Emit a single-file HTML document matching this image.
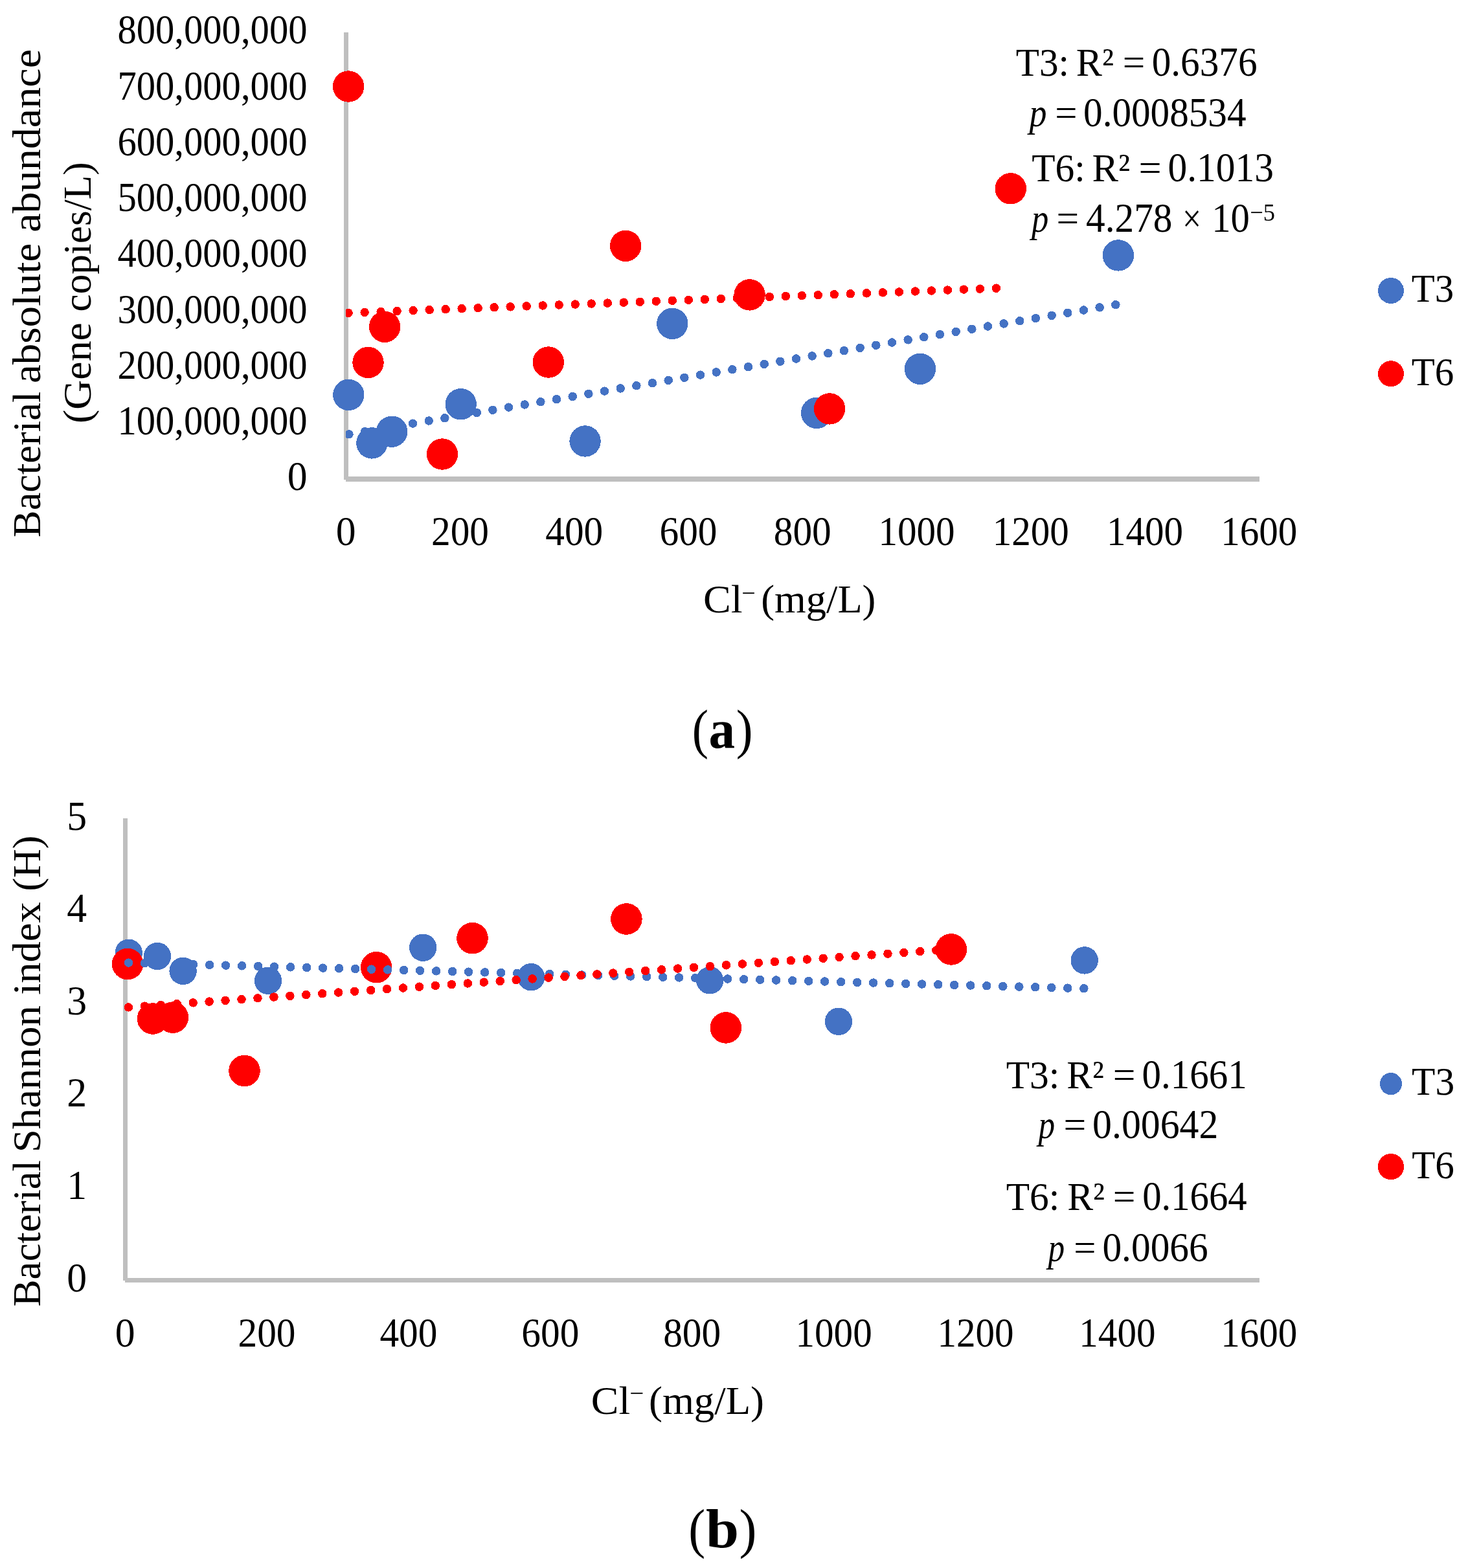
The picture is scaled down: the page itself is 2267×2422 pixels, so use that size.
<!DOCTYPE html>
<html lang="en">
<head>
<meta charset="utf-8">
<title>Bacterial absolute abundance and Shannon index versus chloride concentration</title>
<style>
html, body { margin: 0; padding: 0; background: #fff; }
body { width: 2267px; height: 2422px; overflow: hidden; }
svg { display: block; }
circle, path, rect { shape-rendering: crispEdges; }
text { font-family: "Liberation Serif", serif; font-size: 62.0px; fill: #000; font-kerning: none; font-variant-ligatures: none; white-space: pre; }
</style>
</head>
<body>
<svg width="2267" height="2422" viewBox="0 0 2267 2422">
<rect width="2267" height="2422" fill="#fff"/>
<g id="chart-a">
<rect x="531.3" y="50" width="6.6" height="690.7" fill="#BFBFBF"/>
<rect x="534.1" y="736.4" width="1410.6" height="7.2" fill="#BFBFBF"/>
<text y="67.4"><tspan x="181.4" textLength="293.13" lengthAdjust="spacingAndGlyphs" font-size="62.6">800,000,000</tspan></text>
<text y="153.62"><tspan x="181.4" textLength="293.13" lengthAdjust="spacingAndGlyphs" font-size="62.6">700,000,000</tspan></text>
<text y="239.85"><tspan x="181.4" textLength="293.13" lengthAdjust="spacingAndGlyphs" font-size="62.6">600,000,000</tspan></text>
<text y="326.07"><tspan x="181.4" textLength="293.13" lengthAdjust="spacingAndGlyphs" font-size="62.6">500,000,000</tspan></text>
<text y="412.3"><tspan x="181.4" textLength="293.13" lengthAdjust="spacingAndGlyphs" font-size="62.6">400,000,000</tspan></text>
<text y="498.52"><tspan x="181.4" textLength="293.13" lengthAdjust="spacingAndGlyphs" font-size="62.6">300,000,000</tspan></text>
<text y="584.75"><tspan x="181.4" textLength="293.13" lengthAdjust="spacingAndGlyphs" font-size="62.6">200,000,000</tspan></text>
<text y="670.97"><tspan x="181.4" textLength="293.13" lengthAdjust="spacingAndGlyphs" font-size="62.6">100,000,000</tspan></text>
<text y="757.2"><tspan x="443.78" textLength="30.87" lengthAdjust="spacingAndGlyphs" font-size="62.6">0</tspan></text>
<text y="842.3"><tspan x="518.82" textLength="30.87" lengthAdjust="spacingAndGlyphs" font-size="62.6">0</tspan></text>
<text y="842.3"><tspan x="665.99" textLength="89.02" lengthAdjust="spacingAndGlyphs" font-size="62.6">200</tspan></text>
<text y="842.3"><tspan x="842.24" textLength="89.02" lengthAdjust="spacingAndGlyphs" font-size="62.6">400</tspan></text>
<text y="842.3"><tspan x="1018.49" textLength="89.02" lengthAdjust="spacingAndGlyphs" font-size="62.6">600</tspan></text>
<text y="842.3"><tspan x="1194.74" textLength="89.02" lengthAdjust="spacingAndGlyphs" font-size="62.6">800</tspan></text>
<text y="842.3"><tspan x="1356.42" textLength="118.17" lengthAdjust="spacingAndGlyphs" font-size="62.6">1000</tspan></text>
<text y="842.3"><tspan x="1532.67" textLength="118.17" lengthAdjust="spacingAndGlyphs" font-size="62.6">1200</tspan></text>
<text y="842.3"><tspan x="1708.92" textLength="118.17" lengthAdjust="spacingAndGlyphs" font-size="62.6">1400</tspan></text>
<text y="842.3"><tspan x="1885.17" textLength="118.17" lengthAdjust="spacingAndGlyphs" font-size="62.6">1600</tspan></text>
<text transform="translate(62.3 0) rotate(-90)" y="0"><tspan x="-830" textLength="225.25" lengthAdjust="spacingAndGlyphs">Bacterial</tspan> <tspan x="-592.08" textLength="216.54" lengthAdjust="spacingAndGlyphs">absolute</tspan> <tspan x="-358.83" textLength="282.82" lengthAdjust="spacingAndGlyphs">abundance</tspan></text>
<text transform="translate(140.2 0) rotate(-90)" y="0"><tspan x="-654" textLength="155.92" lengthAdjust="spacingAndGlyphs">(Gene</tspan> <tspan x="-481.53" textLength="231.12" lengthAdjust="spacingAndGlyphs">copies/L)</tspan></text>
<text y="946.3"><tspan x="1086.07" textLength="60.62" lengthAdjust="spacingAndGlyphs">Cl</tspan><tspan x="1145.31" textLength="21.45" lengthAdjust="spacingAndGlyphs" y="929.22" font-size="38">−</tspan> <tspan x="1175.25" textLength="177.2" lengthAdjust="spacingAndGlyphs" y="946.3">(mg/L)</tspan></text>
<circle cx="538.3" cy="609.9" r="24.2" fill="#4472C4"/>
<circle cx="574.4" cy="684.4" r="24.2" fill="#4472C4"/>
<circle cx="605.2" cy="666.7" r="24.2" fill="#4472C4"/>
<circle cx="711.7" cy="624.3" r="24.2" fill="#4472C4"/>
<circle cx="903.6" cy="681.5" r="24.2" fill="#4472C4"/>
<circle cx="1038.3" cy="499.9" r="24.2" fill="#4472C4"/>
<circle cx="1261.1" cy="637.9" r="24.2" fill="#4472C4"/>
<circle cx="1421" cy="569.8" r="24.2" fill="#4472C4"/>
<circle cx="1726.9" cy="394.4" r="24.2" fill="#4472C4"/>
<circle cx="538.1" cy="133.5" r="24.2" fill="#FF0000"/>
<circle cx="568.5" cy="559.9" r="24.2" fill="#FF0000"/>
<circle cx="594.1" cy="504.8" r="24.2" fill="#FF0000"/>
<circle cx="683" cy="701.5" r="24.2" fill="#FF0000"/>
<circle cx="846.8" cy="559.5" r="24.2" fill="#FF0000"/>
<circle cx="966.1" cy="379.8" r="24.2" fill="#FF0000"/>
<circle cx="1157.6" cy="455.4" r="24.2" fill="#FF0000"/>
<circle cx="1281.1" cy="631.4" r="24.2" fill="#FF0000"/>
<circle cx="1560.8" cy="291.3" r="24.2" fill="#FF0000"/>
<g fill="#4472C4">
<path d="M534.00 666.16A6.75 6.75 0 1 1 534.00 675.44Z"/>
<circle cx="563.56" cy="666.63" r="6.75"/>
<circle cx="588.23" cy="662.46" r="6.75"/>
<circle cx="612.89" cy="658.29" r="6.75"/>
<circle cx="637.56" cy="654.12" r="6.75"/>
<circle cx="662.22" cy="649.96" r="6.75"/>
<circle cx="686.89" cy="645.79" r="6.75"/>
<circle cx="711.55" cy="641.62" r="6.75"/>
<circle cx="736.22" cy="637.45" r="6.75"/>
<circle cx="760.88" cy="633.28" r="6.75"/>
<circle cx="785.55" cy="629.11" r="6.75"/>
<circle cx="810.21" cy="624.94" r="6.75"/>
<circle cx="834.88" cy="620.77" r="6.75"/>
<circle cx="859.54" cy="616.61" r="6.75"/>
<circle cx="884.20" cy="612.44" r="6.75"/>
<circle cx="908.87" cy="608.27" r="6.75"/>
<circle cx="933.53" cy="604.10" r="6.75"/>
<circle cx="958.20" cy="599.93" r="6.75"/>
<circle cx="982.86" cy="595.76" r="6.75"/>
<circle cx="1007.53" cy="591.59" r="6.75"/>
<circle cx="1032.19" cy="587.42" r="6.75"/>
<circle cx="1056.86" cy="583.26" r="6.75"/>
<circle cx="1081.52" cy="579.09" r="6.75"/>
<circle cx="1106.19" cy="574.92" r="6.75"/>
<circle cx="1130.85" cy="570.75" r="6.75"/>
<circle cx="1155.51" cy="566.58" r="6.75"/>
<circle cx="1180.18" cy="562.41" r="6.75"/>
<circle cx="1204.84" cy="558.24" r="6.75"/>
<circle cx="1229.51" cy="554.07" r="6.75"/>
<circle cx="1254.17" cy="549.91" r="6.75"/>
<circle cx="1278.84" cy="545.74" r="6.75"/>
<circle cx="1303.50" cy="541.57" r="6.75"/>
<circle cx="1328.17" cy="537.40" r="6.75"/>
<circle cx="1352.83" cy="533.23" r="6.75"/>
<circle cx="1377.50" cy="529.06" r="6.75"/>
<circle cx="1402.16" cy="524.89" r="6.75"/>
<circle cx="1426.83" cy="520.72" r="6.75"/>
<circle cx="1451.49" cy="516.56" r="6.75"/>
<circle cx="1476.15" cy="512.39" r="6.75"/>
<circle cx="1500.82" cy="508.22" r="6.75"/>
<circle cx="1525.48" cy="504.05" r="6.75"/>
<circle cx="1550.15" cy="499.88" r="6.75"/>
<circle cx="1574.81" cy="495.71" r="6.75"/>
<circle cx="1599.48" cy="491.54" r="6.75"/>
<circle cx="1624.14" cy="487.38" r="6.75"/>
<circle cx="1648.81" cy="483.21" r="6.75"/>
<circle cx="1673.47" cy="479.04" r="6.75"/>
<circle cx="1698.14" cy="474.87" r="6.75"/>
<circle cx="1722.80" cy="470.70" r="6.75"/>
</g>
<g fill="#FF0000">
<path d="M534.00 478.04A6.75 6.75 0 1 1 534.00 488.76Z"/>
<circle cx="563.11" cy="482.44" r="6.75"/>
<circle cx="588.12" cy="481.49" r="6.75"/>
<circle cx="613.12" cy="480.53" r="6.75"/>
<circle cx="638.13" cy="479.58" r="6.75"/>
<circle cx="663.14" cy="478.62" r="6.75"/>
<circle cx="688.14" cy="477.67" r="6.75"/>
<circle cx="713.15" cy="476.71" r="6.75"/>
<circle cx="738.16" cy="475.76" r="6.75"/>
<circle cx="763.17" cy="474.81" r="6.75"/>
<circle cx="788.18" cy="473.85" r="6.75"/>
<circle cx="813.18" cy="472.89" r="6.75"/>
<circle cx="838.19" cy="471.94" r="6.75"/>
<circle cx="863.20" cy="470.98" r="6.75"/>
<circle cx="888.21" cy="470.03" r="6.75"/>
<circle cx="913.21" cy="469.07" r="6.75"/>
<circle cx="938.22" cy="468.12" r="6.75"/>
<circle cx="963.23" cy="467.16" r="6.75"/>
<circle cx="988.24" cy="466.21" r="6.75"/>
<circle cx="1013.24" cy="465.25" r="6.75"/>
<circle cx="1038.25" cy="464.30" r="6.75"/>
<circle cx="1063.26" cy="463.34" r="6.75"/>
<circle cx="1088.27" cy="462.39" r="6.75"/>
<circle cx="1113.27" cy="461.44" r="6.75"/>
<circle cx="1138.28" cy="460.48" r="6.75"/>
<circle cx="1163.29" cy="459.52" r="6.75"/>
<circle cx="1188.30" cy="458.57" r="6.75"/>
<circle cx="1213.30" cy="457.62" r="6.75"/>
<circle cx="1238.31" cy="456.66" r="6.75"/>
<circle cx="1263.32" cy="455.70" r="6.75"/>
<circle cx="1288.33" cy="454.75" r="6.75"/>
<circle cx="1313.33" cy="453.79" r="6.75"/>
<circle cx="1338.34" cy="452.84" r="6.75"/>
<circle cx="1363.35" cy="451.88" r="6.75"/>
<circle cx="1388.36" cy="450.93" r="6.75"/>
<circle cx="1413.36" cy="449.97" r="6.75"/>
<circle cx="1438.37" cy="449.02" r="6.75"/>
<circle cx="1463.38" cy="448.06" r="6.75"/>
<circle cx="1488.38" cy="447.11" r="6.75"/>
<circle cx="1513.39" cy="446.15" r="6.75"/>
<circle cx="1538.40" cy="445.20" r="6.75"/>
</g>
<text y="117.2"><tspan x="1568.73" textLength="82.27" lengthAdjust="spacingAndGlyphs">T3:</tspan> <tspan x="1661.86" textLength="58.32" lengthAdjust="spacingAndGlyphs">R²</tspan> <tspan x="1733.65" textLength="34.54" lengthAdjust="spacingAndGlyphs">=</tspan> <tspan x="1778.64" textLength="162.92" lengthAdjust="spacingAndGlyphs" font-size="62.6">0.6376</tspan></text>
<text y="195.4"><tspan x="1589.46" textLength="26.97" lengthAdjust="spacingAndGlyphs" font-style="italic">p</tspan> <tspan x="1629.17" textLength="34.3" lengthAdjust="spacingAndGlyphs">=</tspan> <tspan x="1673.05" textLength="251.48" lengthAdjust="spacingAndGlyphs" font-size="62.6">0.0008534</tspan></text>
<text y="280.2"><tspan x="1593.13" textLength="82.6" lengthAdjust="spacingAndGlyphs">T6:</tspan> <tspan x="1686.55" textLength="58.74" lengthAdjust="spacingAndGlyphs">R²</tspan> <tspan x="1758.5" textLength="35.15" lengthAdjust="spacingAndGlyphs">=</tspan> <tspan x="1803.54" textLength="163.49" lengthAdjust="spacingAndGlyphs" font-size="62.6">0.1013</tspan></text>
<text y="358.4"><tspan x="1592.98" textLength="26.31" lengthAdjust="spacingAndGlyphs" font-style="italic">p</tspan> <tspan x="1631.54" textLength="34.66" lengthAdjust="spacingAndGlyphs">=</tspan> <tspan x="1677.04" textLength="133.42" lengthAdjust="spacingAndGlyphs" font-size="62.6">4.278</tspan> <tspan x="1825.92" textLength="29.12" lengthAdjust="spacingAndGlyphs">×</tspan> <tspan x="1871.24" textLength="58.69" lengthAdjust="spacingAndGlyphs" font-size="62.6">10</tspan><tspan x="1930.18" textLength="38.84" lengthAdjust="spacingAndGlyphs" y="341.1" font-size="38">−5</tspan></text>
<circle cx="2148" cy="449" r="20" fill="#4472C4"/>
<text y="466.3"><tspan x="2179.74" textLength="65.47" lengthAdjust="spacingAndGlyphs">T3</tspan></text>
<circle cx="2148" cy="577.2" r="20" fill="#FF0000"/>
<text y="594.5"><tspan x="2179.73" textLength="65.63" lengthAdjust="spacingAndGlyphs">T6</tspan></text>
<text y="1155.4" font-size="84.5"><tspan x="1068.86" textLength="25.28" lengthAdjust="spacingAndGlyphs" font-size="84.5">(</tspan><tspan x="1094.39" textLength="40.54" lengthAdjust="spacingAndGlyphs" font-size="84.5" font-weight="bold">a</tspan><tspan x="1136.7" textLength="25.8" lengthAdjust="spacingAndGlyphs" font-size="84.5">)</tspan></text>
</g>
<g id="chart-b">
<rect x="190.2" y="1264.2" width="6.7" height="713.3" fill="#BFBFBF"/>
<rect x="193.4" y="1974.1" width="1751.5" height="7.1" fill="#BFBFBF"/>
<text y="1281.8"><tspan x="103.28" textLength="30.87" lengthAdjust="spacingAndGlyphs" font-size="62.6">5</tspan></text>
<text y="1424.35"><tspan x="103.28" textLength="30.87" lengthAdjust="spacingAndGlyphs" font-size="62.6">4</tspan></text>
<text y="1566.9"><tspan x="103.28" textLength="30.87" lengthAdjust="spacingAndGlyphs" font-size="62.6">3</tspan></text>
<text y="1709.45"><tspan x="103.28" textLength="30.87" lengthAdjust="spacingAndGlyphs" font-size="62.6">2</tspan></text>
<text y="1852"><tspan x="103.28" textLength="30.87" lengthAdjust="spacingAndGlyphs" font-size="62.6">1</tspan></text>
<text y="1994.55"><tspan x="103.28" textLength="30.87" lengthAdjust="spacingAndGlyphs" font-size="62.6">0</tspan></text>
<text y="2079.5"><tspan x="177.67" textLength="30.87" lengthAdjust="spacingAndGlyphs" font-size="62.6">0</tspan></text>
<text y="2079.5"><tspan x="367.49" textLength="89.02" lengthAdjust="spacingAndGlyphs" font-size="62.6">200</tspan></text>
<text y="2079.5"><tspan x="586.39" textLength="89.02" lengthAdjust="spacingAndGlyphs" font-size="62.6">400</tspan></text>
<text y="2079.5"><tspan x="805.29" textLength="89.02" lengthAdjust="spacingAndGlyphs" font-size="62.6">600</tspan></text>
<text y="2079.5"><tspan x="1024.19" textLength="89.02" lengthAdjust="spacingAndGlyphs" font-size="62.6">800</tspan></text>
<text y="2079.5"><tspan x="1228.52" textLength="118.17" lengthAdjust="spacingAndGlyphs" font-size="62.6">1000</tspan></text>
<text y="2079.5"><tspan x="1447.42" textLength="118.17" lengthAdjust="spacingAndGlyphs" font-size="62.6">1200</tspan></text>
<text y="2079.5"><tspan x="1666.32" textLength="118.17" lengthAdjust="spacingAndGlyphs" font-size="62.6">1400</tspan></text>
<text y="2079.5"><tspan x="1885.22" textLength="118.17" lengthAdjust="spacingAndGlyphs" font-size="62.6">1600</tspan></text>
<text transform="translate(62 0) rotate(-90)" y="0"><tspan x="-2018.21" textLength="226.26" lengthAdjust="spacingAndGlyphs">Bacterial</tspan> <tspan x="-1780.34" textLength="227.23" lengthAdjust="spacingAndGlyphs">Shannon</tspan> <tspan x="-1536.76" textLength="143.44" lengthAdjust="spacingAndGlyphs">index</tspan> <tspan x="-1376.62" textLength="86.05" lengthAdjust="spacingAndGlyphs">(H)</tspan></text>
<text y="2183.8"><tspan x="912.88" textLength="60.4" lengthAdjust="spacingAndGlyphs">Cl</tspan><tspan x="972.25" textLength="22.06" lengthAdjust="spacingAndGlyphs" y="2165.22" font-size="38">−</tspan> <tspan x="1001.94" textLength="178.13" lengthAdjust="spacingAndGlyphs" y="2183.8">(mg/L)</tspan></text>
<circle cx="198.7" cy="1471.8" r="21.2" fill="#4472C4"/>
<circle cx="243" cy="1476.9" r="21.2" fill="#4472C4"/>
<circle cx="282.6" cy="1499.9" r="21.2" fill="#4472C4"/>
<circle cx="414.05" cy="1514.75" r="21.2" fill="#4472C4"/>
<circle cx="653.2" cy="1463.7" r="21.2" fill="#4472C4"/>
<circle cx="820.2" cy="1509.2" r="21.2" fill="#4472C4"/>
<circle cx="1096.2" cy="1514.3" r="21.2" fill="#4472C4"/>
<circle cx="1295" cy="1577.8" r="21.2" fill="#4472C4"/>
<circle cx="1674.7" cy="1483.4" r="21.2" fill="#4472C4"/>
<circle cx="197.1" cy="1489" r="24.3" fill="#FF0000"/>
<circle cx="236" cy="1573.5" r="24.3" fill="#FF0000"/>
<circle cx="266.9" cy="1571.6" r="24.3" fill="#FF0000"/>
<circle cx="377.5" cy="1654" r="24.3" fill="#FF0000"/>
<circle cx="581.2" cy="1494.2" r="24.3" fill="#FF0000"/>
<circle cx="729.5" cy="1449.2" r="24.3" fill="#FF0000"/>
<circle cx="967.4" cy="1419.5" r="24.3" fill="#FF0000"/>
<circle cx="1120.9" cy="1587.4" r="24.3" fill="#FF0000"/>
<circle cx="1468.8" cy="1466.4" r="24.3" fill="#FF0000"/>
<g fill="#4472C4">
<circle cx="198.60" cy="1487.10" r="6.75"/>
<circle cx="223.60" cy="1487.77" r="6.75"/>
<circle cx="248.61" cy="1488.45" r="6.75"/>
<circle cx="273.61" cy="1489.12" r="6.75"/>
<circle cx="298.61" cy="1489.79" r="6.75"/>
<circle cx="323.62" cy="1490.46" r="6.75"/>
<circle cx="348.62" cy="1491.14" r="6.75"/>
<circle cx="373.62" cy="1491.81" r="6.75"/>
<circle cx="398.63" cy="1492.48" r="6.75"/>
<circle cx="423.63" cy="1493.16" r="6.75"/>
<circle cx="448.63" cy="1493.83" r="6.75"/>
<circle cx="473.64" cy="1494.50" r="6.75"/>
<circle cx="498.64" cy="1495.17" r="6.75"/>
<circle cx="523.64" cy="1495.85" r="6.75"/>
<circle cx="548.65" cy="1496.52" r="6.75"/>
<circle cx="573.65" cy="1497.19" r="6.75"/>
<circle cx="598.65" cy="1497.87" r="6.75"/>
<circle cx="623.66" cy="1498.54" r="6.75"/>
<circle cx="648.66" cy="1499.21" r="6.75"/>
<circle cx="673.66" cy="1499.88" r="6.75"/>
<circle cx="698.67" cy="1500.56" r="6.75"/>
<circle cx="723.67" cy="1501.23" r="6.75"/>
<circle cx="748.67" cy="1501.90" r="6.75"/>
<circle cx="773.68" cy="1502.58" r="6.75"/>
<circle cx="798.68" cy="1503.25" r="6.75"/>
<circle cx="823.68" cy="1503.92" r="6.75"/>
<circle cx="848.69" cy="1504.59" r="6.75"/>
<circle cx="873.69" cy="1505.27" r="6.75"/>
<circle cx="898.69" cy="1505.94" r="6.75"/>
<circle cx="923.70" cy="1506.61" r="6.75"/>
<circle cx="948.70" cy="1507.29" r="6.75"/>
<circle cx="973.71" cy="1507.96" r="6.75"/>
<circle cx="998.71" cy="1508.63" r="6.75"/>
<circle cx="1023.71" cy="1509.31" r="6.75"/>
<circle cx="1048.72" cy="1509.98" r="6.75"/>
<circle cx="1073.72" cy="1510.65" r="6.75"/>
<circle cx="1098.72" cy="1511.32" r="6.75"/>
<circle cx="1123.73" cy="1512.00" r="6.75"/>
<circle cx="1148.73" cy="1512.67" r="6.75"/>
<circle cx="1173.73" cy="1513.34" r="6.75"/>
<circle cx="1198.74" cy="1514.02" r="6.75"/>
<circle cx="1223.74" cy="1514.69" r="6.75"/>
<circle cx="1248.74" cy="1515.36" r="6.75"/>
<circle cx="1273.75" cy="1516.03" r="6.75"/>
<circle cx="1298.75" cy="1516.71" r="6.75"/>
<circle cx="1323.75" cy="1517.38" r="6.75"/>
<circle cx="1348.76" cy="1518.05" r="6.75"/>
<circle cx="1373.76" cy="1518.73" r="6.75"/>
<circle cx="1398.76" cy="1519.40" r="6.75"/>
<circle cx="1423.77" cy="1520.07" r="6.75"/>
<circle cx="1448.77" cy="1520.74" r="6.75"/>
<circle cx="1473.77" cy="1521.42" r="6.75"/>
<circle cx="1498.78" cy="1522.09" r="6.75"/>
<circle cx="1523.78" cy="1522.76" r="6.75"/>
<circle cx="1548.78" cy="1523.44" r="6.75"/>
<circle cx="1573.79" cy="1524.11" r="6.75"/>
<circle cx="1598.79" cy="1524.78" r="6.75"/>
<circle cx="1623.79" cy="1525.45" r="6.75"/>
<circle cx="1648.80" cy="1526.13" r="6.75"/>
<circle cx="1673.80" cy="1526.80" r="6.75"/>
</g>
<g fill="#FF0000">
<circle cx="198.40" cy="1555.90" r="6.75"/>
<circle cx="223.35" cy="1554.14" r="6.75"/>
<circle cx="248.30" cy="1552.38" r="6.75"/>
<circle cx="273.24" cy="1550.62" r="6.75"/>
<circle cx="298.19" cy="1548.86" r="6.75"/>
<circle cx="323.14" cy="1547.10" r="6.75"/>
<circle cx="348.09" cy="1545.34" r="6.75"/>
<circle cx="373.04" cy="1543.58" r="6.75"/>
<circle cx="397.98" cy="1541.82" r="6.75"/>
<circle cx="422.93" cy="1540.06" r="6.75"/>
<circle cx="447.88" cy="1538.30" r="6.75"/>
<circle cx="472.83" cy="1536.54" r="6.75"/>
<circle cx="497.78" cy="1534.78" r="6.75"/>
<circle cx="522.72" cy="1533.02" r="6.75"/>
<circle cx="547.67" cy="1531.26" r="6.75"/>
<circle cx="572.62" cy="1529.50" r="6.75"/>
<circle cx="597.57" cy="1527.74" r="6.75"/>
<circle cx="622.52" cy="1525.98" r="6.75"/>
<circle cx="647.46" cy="1524.22" r="6.75"/>
<circle cx="672.41" cy="1522.46" r="6.75"/>
<circle cx="697.36" cy="1520.70" r="6.75"/>
<circle cx="722.31" cy="1518.94" r="6.75"/>
<circle cx="747.26" cy="1517.18" r="6.75"/>
<circle cx="772.20" cy="1515.42" r="6.75"/>
<circle cx="797.15" cy="1513.66" r="6.75"/>
<circle cx="822.10" cy="1511.90" r="6.75"/>
<circle cx="847.05" cy="1510.14" r="6.75"/>
<circle cx="872.00" cy="1508.38" r="6.75"/>
<circle cx="896.94" cy="1506.62" r="6.75"/>
<circle cx="921.89" cy="1504.86" r="6.75"/>
<circle cx="946.84" cy="1503.10" r="6.75"/>
<circle cx="971.79" cy="1501.34" r="6.75"/>
<circle cx="996.74" cy="1499.58" r="6.75"/>
<circle cx="1021.68" cy="1497.82" r="6.75"/>
<circle cx="1046.63" cy="1496.06" r="6.75"/>
<circle cx="1071.58" cy="1494.30" r="6.75"/>
<circle cx="1096.53" cy="1492.54" r="6.75"/>
<circle cx="1121.48" cy="1490.78" r="6.75"/>
<circle cx="1146.42" cy="1489.02" r="6.75"/>
<circle cx="1171.37" cy="1487.26" r="6.75"/>
<circle cx="1196.32" cy="1485.50" r="6.75"/>
<circle cx="1221.27" cy="1483.74" r="6.75"/>
<circle cx="1246.22" cy="1481.98" r="6.75"/>
<circle cx="1271.16" cy="1480.22" r="6.75"/>
<circle cx="1296.11" cy="1478.46" r="6.75"/>
<circle cx="1321.06" cy="1476.70" r="6.75"/>
<circle cx="1346.01" cy="1474.94" r="6.75"/>
<circle cx="1370.96" cy="1473.18" r="6.75"/>
<circle cx="1395.90" cy="1471.42" r="6.75"/>
<circle cx="1420.85" cy="1469.66" r="6.75"/>
<circle cx="1445.80" cy="1467.90" r="6.75"/>
</g>
<text y="1680.5"><tspan x="1553.63" textLength="82.6" lengthAdjust="spacingAndGlyphs">T3:</tspan> <tspan x="1647.28" textLength="57.69" lengthAdjust="spacingAndGlyphs">R²</tspan> <tspan x="1718.64" textLength="34.66" lengthAdjust="spacingAndGlyphs">=</tspan> <tspan x="1763.45" textLength="162.19" lengthAdjust="spacingAndGlyphs" font-size="62.6">0.1661</tspan></text>
<text y="1758.1"><tspan x="1603.51" textLength="25.65" lengthAdjust="spacingAndGlyphs" font-style="italic">p</tspan> <tspan x="1642.53" textLength="34.78" lengthAdjust="spacingAndGlyphs">=</tspan> <tspan x="1687.12" textLength="194.27" lengthAdjust="spacingAndGlyphs" font-size="62.6">0.00642</tspan></text>
<text y="1869.4"><tspan x="1553.63" textLength="82.6" lengthAdjust="spacingAndGlyphs">T6:</tspan> <tspan x="1648.17" textLength="57.9" lengthAdjust="spacingAndGlyphs">R²</tspan> <tspan x="1718.64" textLength="34.66" lengthAdjust="spacingAndGlyphs">=</tspan> <tspan x="1764.16" textLength="161.56" lengthAdjust="spacingAndGlyphs" font-size="62.6">0.1664</tspan></text>
<text y="1948.3"><tspan x="1618.61" textLength="25.65" lengthAdjust="spacingAndGlyphs" font-style="italic">p</tspan> <tspan x="1658.18" textLength="34.18" lengthAdjust="spacingAndGlyphs">=</tspan> <tspan x="1702.44" textLength="163.23" lengthAdjust="spacingAndGlyphs" font-size="62.6">0.0066</tspan></text>
<circle cx="2148" cy="1674.1" r="17.1" fill="#4472C4"/>
<text y="1691.1"><tspan x="2180.12" textLength="66.1" lengthAdjust="spacingAndGlyphs">T3</tspan></text>
<circle cx="2148" cy="1802.1" r="20.1" fill="#FF0000"/>
<text y="1819.6"><tspan x="2180.13" textLength="65.73" lengthAdjust="spacingAndGlyphs">T6</tspan></text>
<text y="2389.5" font-size="84.5"><tspan x="1063.18" textLength="25.93" lengthAdjust="spacingAndGlyphs" font-size="84.5">(</tspan><tspan x="1090.13" textLength="51.09" lengthAdjust="spacingAndGlyphs" font-size="84.5" font-weight="bold">b</tspan><tspan x="1141.39" textLength="26.97" lengthAdjust="spacingAndGlyphs" font-size="84.5">)</tspan></text>
</g>
</svg>
</body>
</html>
